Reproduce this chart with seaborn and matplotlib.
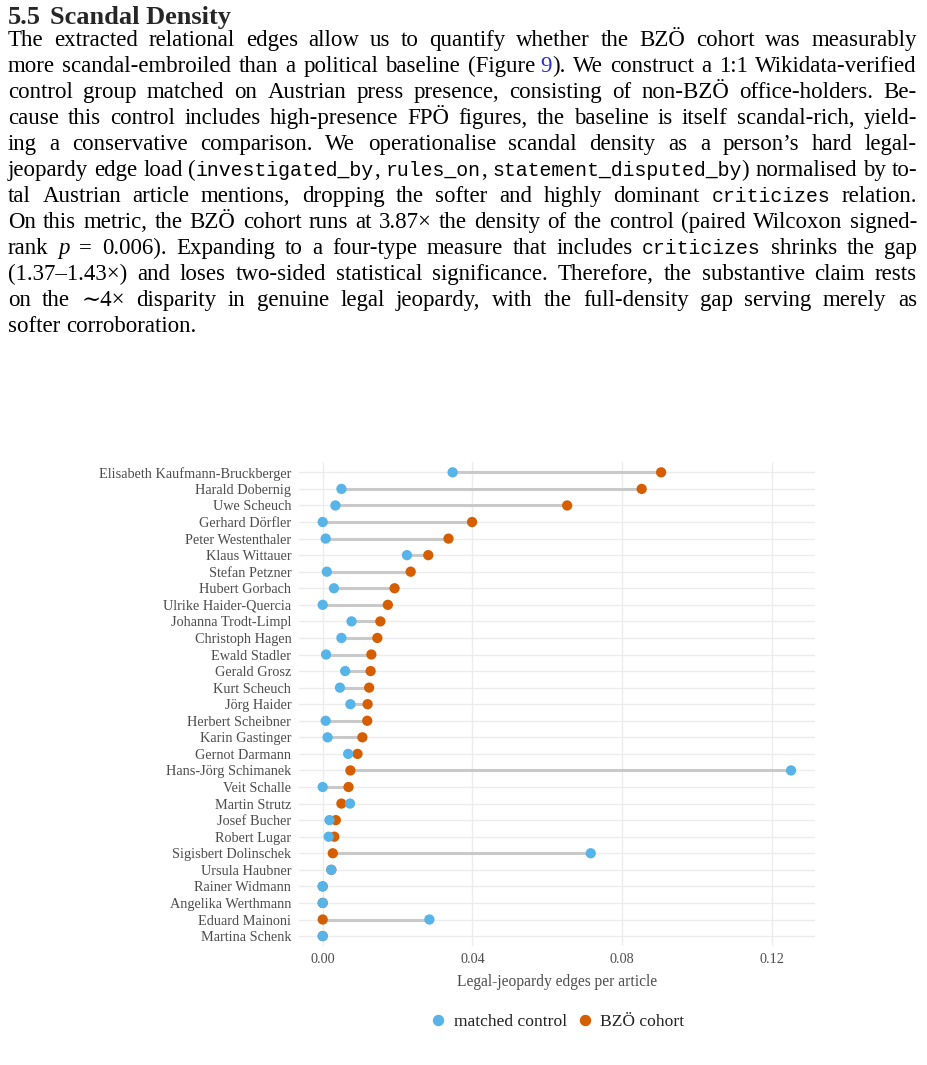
import re

import matplotlib.pyplot as plt
import numpy as np
import pandas as pd
import seaborn as sns
from matplotlib.lines import Line2D

##### data #####
names = [
    'Elisabeth Kaufmann-Bruckberger', 'Harald Dobernig', 'Uwe Scheuch',
    'Gerhard Dörfler', 'Peter Westenthaler', 'Klaus Wittauer', 'Stefan Petzner',
    'Hubert Gorbach', 'Ulrike Haider-Quercia', 'Johanna Trodt-Limpl',
    'Christoph Hagen', 'Ewald Stadler', 'Gerald Grosz', 'Kurt Scheuch',
    'Jörg Haider', 'Herbert Scheibner', 'Karin Gastinger', 'Gernot Darmann',
    'Hans-Jörg Schimanek', 'Veit Schalle', 'Martin Strutz', 'Josef Bucher',
    'Robert Lugar', 'Sigisbert Dolinschek', 'Ursula Haubner', 'Rainer Widmann',
    'Angelika Werthmann', 'Eduard Mainoni', 'Martina Schenk',
]
control = [
    0.0347, 0.0050, 0.0034, 0.0000, 0.0008, 0.0225, 0.0011, 0.0030, 0.0000,
    0.0077, 0.0050, 0.0009, 0.0060, 0.0046, 0.0074, 0.0008, 0.0013, 0.0068,
    0.1251, 0.0000, 0.0073, 0.0018, 0.0016, 0.0716, 0.0023, 0.0000, 0.0000,
    0.0285, 0.0000,
]
bzo = [
    0.0904, 0.0852, 0.0653, 0.0399, 0.0336, 0.0282, 0.0235, 0.0192, 0.0174,
    0.0154, 0.0146, 0.0130, 0.0128, 0.0124, 0.0120, 0.0119, 0.0106, 0.0093,
    0.0074, 0.0069, 0.0050, 0.0035, 0.0031, 0.0027, 0.0023, 0.0000, 0.0000,
    0.0000, 0.0000,
]
groups = ['matched control', 'BZÖ cohort']
colors = {'matched control': '#56B4E9', 'BZÖ cohort': '#D55E00'}
xticks = [0.00, 0.04, 0.08, 0.12]
xtick_labels = ['0.00', '0.04', '0.08', '0.12']
xlabel = 'Legal-jeopardy edges per article'

heading_number = '5.5'
heading_title = 'Scandal Density'
# `mono`, *italic*, {link}
paragraph = [
    'The extracted relational edges allow us to quantify whether the BZÖ cohort was measurably',
    'more scandal-embroiled than a political baseline (Figure\u00a0{9}). We construct a 1:1 Wikidata-verified',
    'control group matched on Austrian press presence, consisting of non-BZÖ office-holders. Be-',
    'cause this control includes high-presence FPÖ figures, the baseline is itself scandal-rich, yield-',
    'ing a conservative comparison. We operationalise scandal density as a person’s hard legal-',
    'jeopardy edge load (`investigated_by`, `rules_on`, `statement_disputed_by`) normalised by to-',
    'tal Austrian article mentions, dropping the softer and highly dominant `criticizes` relation.',
    'On this metric, the BZÖ cohort runs at 3.87× the density of the control (paired Wilcoxon signed-',
    'rank *p* = 0.006). Expanding to a four-type measure that includes `criticizes` shrinks the gap',
    '(1.37–1.43×) and loses two-sided statistical significance. Therefore, the substantive claim rests',
    'on the ∼4× disparity in genuine legal jeopardy, with the full-density gap serving merely as',
    'softer corroboration.',
]

##### figure #####
W, H = 927, 1065
sns.set_style('white')
plt.rcParams['font.family'] = ['Liberation Serif', 'DejaVu Serif']
fig = plt.figure(figsize=(W / 100, H / 100), dpi=100)
renderer = fig.canvas.get_renderer()

BODY = 16.5
serif = ['Liberation Serif', 'DejaVu Serif']
styles = {
    'rm': dict(family=serif, size=BODY, color='black'),
    'tt': dict(family=['Liberation Mono', 'DejaVu Sans Mono'], size=14.3, color='black'),
    'it': dict(family=serif, style='italic', size=BODY, color='black'),
    'ref': dict(family=serif, size=BODY, color='#2b2bd0'),
}
token_re = re.compile(r'`([^`]+)`|\*([^*]+)\*|\{([^}]+)\}|([^`*{]+)')


def parse_word(word):
    runs = []
    for m in token_re.finditer(word):
        if m.group(1):
            runs.append((m.group(1), 'tt'))
        elif m.group(2):
            runs.append((m.group(2), 'it'))
        elif m.group(3):
            runs.append((m.group(3), 'ref'))
        else:
            runs.append((m.group(4), 'rm'))
    return runs


def draw_line(line, baseline, left=8, right=917, justify=True):
    placed = []
    for word in line.split(' '):
        parts = []
        for s, kind in parse_word(word):
            t = fig.text(0, 1 - baseline / H, s, va='baseline', ha='left', **styles[kind])
            parts.append((t, t.get_window_extent(renderer).width))
        placed.append(parts)
    widths = [sum(w for _, w in parts) for parts in placed]
    if justify and len(placed) > 1:
        gap = (right - left - sum(widths)) / (len(placed) - 1)
    else:
        a = fig.text(0, 0, 'a a', **styles['rm'])
        b = fig.text(0, 0, 'aa', **styles['rm'])
        gap = a.get_window_extent(renderer).width - b.get_window_extent(renderer).width
        a.remove()
        b.remove()
    x = left
    for parts in placed:
        for t, w in parts:
            t.set_x(x / W)
            x += w
        x += gap


# heading
fig.text(8 / W, 1 - 24 / H, heading_number, va='baseline', ha='left',
         family=serif, weight='bold', size=19)
fig.text(50 / W, 1 - 24 / H, heading_title, va='baseline', ha='left',
         family=serif, weight='bold', size=19)

for i, line in enumerate(paragraph):
    draw_line(line, 46 + 26 * i, justify=(i < len(paragraph) - 1))

##### dumbbell chart #####
df = pd.DataFrame({'person': names, 'matched control': control, 'BZÖ cohort': bzo})
# BZÖ rows first so the control dots sit on top where they overlap
long = df.melt(id_vars='person', value_vars=['BZÖ cohort', 'matched control'],
               var_name='group', value_name='density')

ax = fig.add_axes([299 / W, 1 - 946 / H, 516 / W, (946 - 462.4) / H])
ypos = np.arange(len(names))
ax.hlines(ypos, df['matched control'], df['BZÖ cohort'], color='#c9c9c9', lw=2.2, zorder=2)
sns.stripplot(data=long, x='density', y='person', hue='group',
              hue_order=groups, order=names,
              palette=colors, jitter=False, size=7.4, linewidth=0,
              legend=False, ax=ax, zorder=3)

ax.set_xlim(-0.00633, 0.1315)
ax.set_ylim(len(names) - 1 + 0.6, -0.6)
ax.set_xticks(xticks)
ax.set_xticklabels(xtick_labels)
ax.grid(True, color='#ececec', lw=1.0)
ax.set_axisbelow(True)
for s in ax.spines.values():
    s.set_visible(False)
ax.tick_params(axis='both', length=0, labelcolor='#4d4d4d', labelsize=10.3)
ax.tick_params(axis='y', pad=5.5)
ax.tick_params(axis='x', pad=5)
ax.set_ylabel('')
ax.set_xlabel(xlabel, color='#4d4d4d', fontsize=11.2, labelpad=6)

handles = [Line2D([], [], marker='o', ls='', color=colors[g], markersize=7.2) for g in groups]
fig.legend(handles, groups, loc='center', bbox_to_anchor=(557 / W, 1 - 1022 / H),
           ncol=2, frameon=False, fontsize=12.6, handletextpad=0.4,
           columnspacing=0.5, handlelength=1.0, labelcolor='#222222')

fig.savefig('out.png', dpi=100)
